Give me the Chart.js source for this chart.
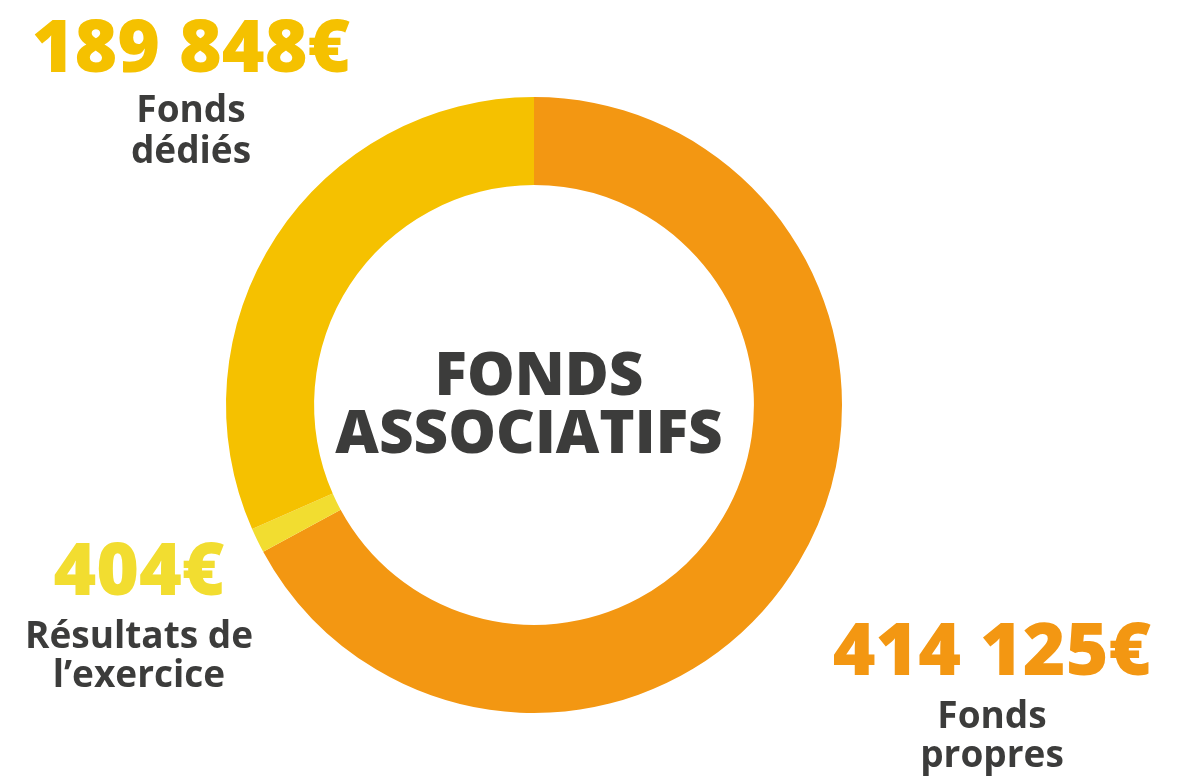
<!DOCTYPE html>
<html>
<head>
<meta charset="utf-8">
<script src="https://cdn.jsdelivr.net/npm/chart.js@4.4.1/dist/chart.umd.min.js"></script>
<style>
  html, body { margin: 0; padding: 0; background: #ffffff; }
  #wrap { position: relative; width: 1179px; height: 776px; }
</style>
</head>
<body>
<div id="wrap"><canvas id="c" width="1179" height="776"></canvas></div>
<script>
// Segments in clockwise order from the top
const categories = ['Fonds propres', "Résultats de l\u2019exercice", 'Fonds dédiés'];
const amounts = [414125, 404, 189848];          // euros, as printed on the chart
// Share of the ring each arc occupies (%) —
// the original enlarges the tiny 404€ slice so it stays visible.
const arcShares = [67.1, 1.3, 31.6];
const colors = ['#F39712', '#F2DD30', '#F5C100'];
const labelColors = ['#F39712', '#F2DD30', '#F5C100'];
const amountLabels = ['414 125€', '404€', '189 848€'];
const nameLines = [['Fonds', 'propres'], ['Résultats de', "l\u2019exercice"], ['Fonds', 'dédiés']];
const centerLines = ['FONDS', 'ASSOCIATIFS'];

const FONT = "'Open Sans', 'Noto Sans', sans-serif";
const DARK = '#3C3C3B';

// label anchor positions (text layout)
const labelPos = [
  { x: 992, y: 675, ny: [728, 767] },
  { x: 139, y: 595, ny: [648, 687] },
  { x: 191, y: 72,  ny: [122, 163] }
];

const textPlugin = {
  id: 'texts',
  afterDraw(chart) {
    const ctx = chart.ctx;
    const meta = chart.getDatasetMeta(0);
    const arc = meta.data[0];
    const cx = arc.x, cy = arc.y;
    ctx.save();
    ctx.textAlign = 'center';
    ctx.textBaseline = 'alphabetic';
    // centre title
    ctx.fillStyle = DARK;
    ctx.font = `800 60px ${FONT}`;
    ctx.fillText(centerLines[0], cx + 5, cy - 10);
    ctx.fillText(centerLines[1], cx - 5, cy + 48);
    // segment labels
    for (let i = 0; i < categories.length; i++) {
      const p = labelPos[i];
      ctx.fillStyle = labelColors[i];
      ctx.font = `800 73px ${FONT}`;
      ctx.fillText(amountLabels[i], p.x, p.y);
      ctx.fillStyle = DARK;
      ctx.font = `700 37px ${FONT}`;
      ctx.fillText(nameLines[i][0], p.x, p.ny[0]);
      ctx.fillText(nameLines[i][1], p.x, p.ny[1]);
    }
    ctx.restore();
  }
};

new Chart(document.getElementById('c'), {
  type: 'doughnut',
  data: {
    labels: categories,
    datasets: [{
      data: arcShares,
      backgroundColor: colors,
      borderWidth: 0,
      hoverOffset: 0
    }]
  },
  options: {
    responsive: false,
    animation: false,
    cutout: '71.4%',
    layout: { padding: { left: 0, right: 111, top: 97, bottom: 63 } },
    plugins: {
      legend: { display: false },
      tooltip: { enabled: false }
    }
  },
  plugins: [textPlugin]
});
</script>
</body>
</html>
